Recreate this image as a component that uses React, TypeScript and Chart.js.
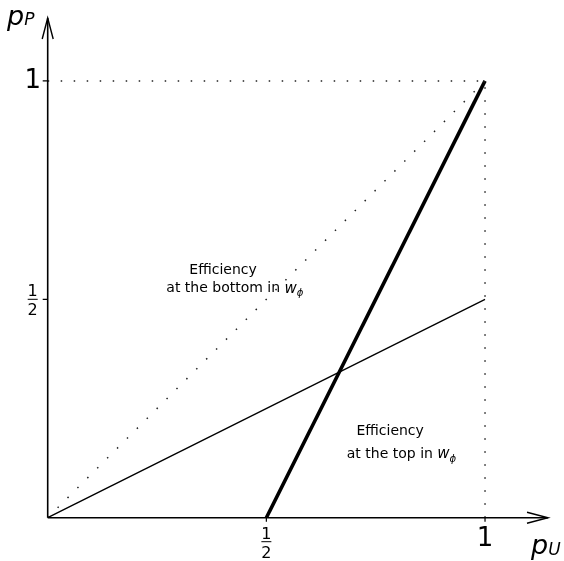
import React, { useEffect, useRef } from 'react';
import { Chart, registerables } from 'chart.js';

Chart.register(...registerables);

// Data (unit square, p_U on x, p_P on y)
const thickX = [0.5, 1];
const thickY = [0, 1];
const thinX = [0, 1];
const thinY = [0, 0.5];
const diagX = [0, 1];
const diagY = [0, 1];
const topGuideX = [0, 1];
const topGuideY = [1, 1];
const rightGuideX = [1, 1];
const rightGuideY = [0, 1];
const axisMax = 1.144;

const xTickValues = [0.5, 1];
const xTickLabels = [['1', '2'], ['1']];
const yTickValues = [0.5, 1];
const yTickLabels = [['1', '2'], ['1']];

const xAxisTitle = ['p', 'U'];
const yAxisTitle = ['p', 'P'];

const noteBottom = { x: 0.401, y: 0.567, x2: 0.428, y2: 0.524, line1: 'Efficiency', line2: 'at the bottom in ' };
const noteTop = { x: 0.783, y: 0.1985, x2: 0.809, y2: 0.146, line1: 'Efficiency', line2: 'at the top in ' };

const pts = (xs: number[], ys: number[]) => xs.map((x, i) => ({ x, y: ys[i] }));

const FONT = '"DejaVu Sans", sans-serif';

const overlay = {
  id: 'overlay',
  afterDatasetsDraw(chart: any) {
    const ctx: CanvasRenderingContext2D = chart.ctx;
    const xs = chart.scales.x;
    const ys = chart.scales.y;
    const X = (v: number) => xs.getPixelForValue(v);
    const Y = (v: number) => ys.getPixelForValue(v);
    const ox = X(0);
    const oy = Y(0);
    const xEnd = X(axisMax);
    const yEnd = Y(axisMax);
    ctx.save();
    ctx.strokeStyle = '#000';
    ctx.fillStyle = '#000';
    ctx.lineWidth = 1.6;
    ctx.lineCap = 'butt';
    // axes
    ctx.beginPath();
    ctx.moveTo(ox, oy);
    ctx.lineTo(xEnd, oy);
    ctx.moveTo(ox, oy);
    ctx.lineTo(ox, yEnd);
    ctx.stroke();
    // arrows
    ctx.lineWidth = 1.4;
    ctx.beginPath();
    ctx.moveTo(xEnd - 21, oy - 5.5);
    ctx.lineTo(xEnd, oy);
    ctx.lineTo(xEnd - 21, oy + 5.5);
    ctx.moveTo(ox - 5.5, yEnd + 21);
    ctx.lineTo(ox, yEnd);
    ctx.lineTo(ox + 5.5, yEnd + 21);
    ctx.stroke();
    // ticks
    ctx.lineWidth = 1.2;
    ctx.beginPath();
    xTickValues.forEach((v) => {
      ctx.moveTo(X(v), oy);
      ctx.lineTo(X(v), oy + 4);
    });
    yTickValues.forEach((v) => {
      ctx.moveTo(ox, Y(v));
      ctx.lineTo(ox - 5, Y(v));
    });
    ctx.stroke();

    const drawLabel = (label: string[], cx: number, cy: number) => {
      ctx.textAlign = 'center';
      if (label.length === 1) {
        ctx.font = `26px ${FONT}`;
        ctx.textBaseline = 'middle';
        ctx.fillText(label[0], cx, cy);
      } else {
        ctx.font = `16px ${FONT}`;
        ctx.textBaseline = 'alphabetic';
        ctx.fillText(label[0], cx, cy - 3);
        ctx.textBaseline = 'top';
        ctx.fillText(label[1], cx, cy + 4);
        ctx.lineWidth = 1;
        ctx.beginPath();
        ctx.moveTo(cx - 5, cy);
        ctx.lineTo(cx + 5, cy);
        ctx.stroke();
      }
    };
    xTickValues.forEach((v, i) => {
      const lab = xTickLabels[i];
      drawLabel(lab, X(v), lab.length === 1 ? oy + 22 : oy + 24);
    });
    yTickValues.forEach((v, i) => {
      drawLabel(yTickLabels[i], ox - 15, Y(v));
    });

    // axis titles
    const drawSub = (main: string, sub: string, x: number, baseline: number, size: number, subSize: number, drop: number) => {
      ctx.textAlign = 'left';
      ctx.textBaseline = 'alphabetic';
      ctx.font = `italic ${size}px ${FONT}`;
      ctx.fillText(main, x, baseline);
      const w = ctx.measureText(main).width;
      ctx.font = `italic ${subSize}px ${FONT}`;
      ctx.fillText(sub, x + w, baseline + drop);
    };
    drawSub(yAxisTitle[0], yAxisTitle[1], 7, 25, 27, 17, 0);
    drawSub(xAxisTitle[0], xAxisTitle[1], 531, 554, 27, 17, 1);

    // annotations
    const note = (n: any) => {
      ctx.font = `14px ${FONT}`;
      ctx.textAlign = 'center';
      ctx.textBaseline = 'middle';
      ctx.fillText(n.line1, X(n.x), Y(n.y));
      ctx.textAlign = 'left';
      const w1 = ctx.measureText(n.line2).width;
      ctx.font = `italic 15px ${FONT}`;
      const w2 = ctx.measureText('w').width;
      ctx.font = `italic 10px ${FONT}`;
      const w3 = ctx.measureText('ϕ').width;
      const total = w1 + w2 + w3;
      let sx = X(n.x2) - total / 2;
      const cy = Y(n.y2);
      ctx.font = `14px ${FONT}`;
      ctx.fillText(n.line2, sx, cy);
      sx += w1;
      ctx.font = `italic 15px ${FONT}`;
      ctx.fillText('w', sx, cy);
      sx += w2;
      ctx.font = `italic 10px ${FONT}`;
      ctx.fillText('ϕ', sx, cy + 5);
    };
    note(noteBottom);
    note(noteTop);
    ctx.restore();
  },
};

export default function App() {
  const ref = useRef<HTMLCanvasElement>(null);
  useEffect(() => {
    if (!ref.current) return;
    const dotted = { borderColor: '#222', borderWidth: 1.5, borderDash: [1.5, 11.5], pointRadius: 0, showLine: true, fill: false };
    const chart = new Chart(ref.current, {
      type: 'scatter',
      data: {
        datasets: [
          { ...dotted, data: pts(topGuideX, topGuideY) },
          { ...dotted, data: pts(rightGuideX, rightGuideY) },
          { ...dotted, borderDash: [1.5, 12.5], data: pts(diagX, diagY) },
          { data: pts(thinX, thinY), borderColor: '#000', borderWidth: 1.3, pointRadius: 0, showLine: true, fill: false },
          { data: pts(thickX, thickY), borderColor: '#000', borderWidth: 3.6, pointRadius: 0, showLine: true, fill: false },
        ],
      } as any,
      options: {
        animation: false,
        responsive: false,
        maintainAspectRatio: false,
        layout: { padding: { left: 47.7, right: 16, top: 18, bottom: 43.3 } },
        plugins: { legend: { display: false }, tooltip: { enabled: false } },
        scales: {
          x: { type: 'linear', min: 0, max: axisMax, display: false },
          y: { type: 'linear', min: 0, max: axisMax, display: false },
        },
      } as any,
      plugins: [overlay],
    });
    return () => chart.destroy();
  }, []);
  return (
    <div style={{ position: 'fixed', left: 0, top: 0, width: 564, height: 561, background: '#fff' }}>
      <canvas ref={ref} width={564} height={561} style={{ display: 'block' }} />
    </div>
  );
}
